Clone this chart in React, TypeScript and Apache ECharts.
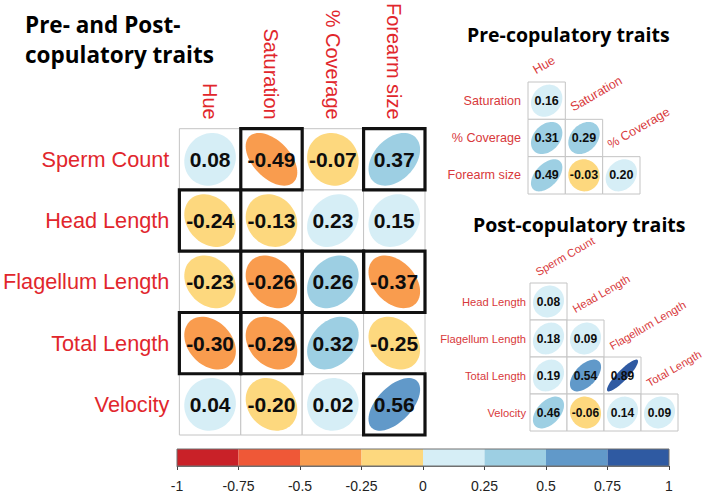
import React, { useEffect, useRef } from 'react';
import * as echarts from 'echarts';

const FONT = '"Liberation Sans", Arial, Helvetica, sans-serif';
const TITLE_FONT = '"Open Sans", "Noto Sans", sans-serif';
const LABEL_RED = '#e1262c';
const SMALL_RED = '#d8393b';

const preTraits = ['Hue', 'Saturation', '% Coverage', 'Forearm size'];
const postTraits = ['Sperm Count', 'Head Length', 'Flagellum Length', 'Total Length', 'Velocity'];

// rows follow postTraits, columns follow preTraits
const crossCorr = [
  [0.08, -0.49, -0.07, 0.37],
  [-0.24, -0.13, 0.23, 0.15],
  [-0.23, -0.26, 0.26, -0.37],
  [-0.3, -0.29, 0.32, -0.25],
  [0.04, -0.2, 0.02, 0.56],
];
const crossSignificant = [
  [0, 1, 0, 1],
  [1, 0, 0, 0],
  [0, 1, 1, 1],
  [1, 1, 0, 0],
  [0, 0, 0, 1],
];

// lower triangles: row i holds correlations with columns 0..i
const preCorr = [[0.16], [0.31, 0.29], [0.49, -0.03, 0.2]];
const postCorr = [[0.08], [0.18, 0.09], [0.19, 0.54, 0.89], [0.46, -0.06, 0.14, 0.09]];

const scaleBreaks = [-1, -0.75, -0.5, -0.25, 0, 0.25, 0.5, 0.75, 1];
const scaleColors = ['#c92128', '#ef5837', '#f99c4e', '#fdd87e', '#d6eef6', '#9dcfe3', '#6199c9', '#2f5aa2'];

function colorFor(r: number): string {
  let idx = 0;
  for (let i = 0; i < scaleColors.length; i++) {
    if (r >= scaleBreaks[i] - 1e-9) idx = i;
  }
  return scaleColors[idx];
}

// corrplot-style ellipse: contour of a bivariate normal with correlation r
function ellipsePoints(cx: number, cy: number, rx: number, ry: number, r: number) {
  const d = Math.acos(Math.max(-1, Math.min(1, r)));
  const pts: number[][] = [];
  const n = 72;
  for (let k = 0; k < n; k++) {
    const t = (k / n) * Math.PI * 2;
    pts.push([cx + rx * Math.cos(t + d / 2), cy - ry * Math.cos(t - d / 2)]);
  }
  return pts;
}

function matrixData(rows: number[][]) {
  const out: number[][] = [];
  rows.forEach((row, i) => row.forEach((v, j) => out.push([j, i, v])));
  return out;
}

const cellRenderer = (fontSize: number) => (params: any, api: any) => {
  const col = api.value(0);
  const row = api.value(1);
  const r = api.value(2);
  const [cx, cy] = api.coord([col, row]);
  const [w, h] = api.size([1, 1]);
  return {
    type: 'group',
    children: [
      {
        type: 'rect',
        shape: { x: cx - w / 2, y: cy - h / 2, width: w, height: h },
        style: { fill: '#ffffff', stroke: '#c4c4c4', lineWidth: 1 },
      },
      {
        type: 'polygon',
        shape: { points: ellipsePoints(cx, cy, w * 0.42, h * 0.43, r) },
        style: { fill: colorFor(r) },
      },
      {
        type: 'text',
        style: {
          text: r.toFixed(2),
          x: cx,
          y: cy,
          align: 'center',
          verticalAlign: 'middle',
          fill: '#0d0d0d',
          fontSize,
          fontWeight: 'bold',
          fontFamily: FONT,
        },
      },
    ],
  };
};

const boldRenderer = (params: any, api: any) => {
  const [cx, cy] = api.coord([api.value(0), api.value(1)]);
  const [w, h] = api.size([1, 1]);
  return {
    type: 'rect',
    shape: { x: cx - w / 2, y: cy - h / 2, width: w, height: h },
    style: { fill: 'none', stroke: '#111111', lineWidth: 3.2 },
  };
};

const diagLabelRenderer = (names: string[], fontSize: number) => (params: any, api: any) => {
  const j = api.value(0);
  const [cx, cy] = api.coord([j, j]);
  const [w, h] = api.size([1, 1]);
  return {
    type: 'text',
    x: cx - w * 0.25,
    y: cy - h / 2 - h * 0.15,
    rotation: Math.PI / 6,
    style: {
      text: names[j],
      x: 0,
      y: 0,
      align: 'left',
      verticalAlign: 'bottom',
      fill: SMALL_RED,
      fontSize,
      fontFamily: FONT,
    },
  };
};

function smallMatrix(
  gridIndex: number,
  rowsNames: string[],
  colNames: string[],
  values: number[][],
  labelSize: number,
  valueSize: number,
  labelMargin: number
) {
  const xAxis = {
    type: 'category',
    gridIndex,
    data: colNames,
    show: false,
  };
  const yAxis = {
    type: 'category',
    gridIndex,
    data: rowsNames,
    inverse: true,
    axisLine: { show: false },
    axisTick: { show: false },
    splitLine: { show: false },
    axisLabel: { color: SMALL_RED, fontSize: labelSize, fontFamily: FONT, margin: labelMargin },
  };
  const series = [
    {
      type: 'custom',
      xAxisIndex: gridIndex,
      yAxisIndex: gridIndex,
      data: matrixData(values),
      renderItem: cellRenderer(valueSize),
      z: 2,
    },
    {
      type: 'custom',
      xAxisIndex: gridIndex,
      yAxisIndex: gridIndex,
      data: colNames.map((_, j) => [j, j]),
      renderItem: diagLabelRenderer(colNames, labelSize),
      z: 2,
    },
  ];
  return { xAxis, yAxis, series };
}

export default function App() {
  const ref = useRef<HTMLDivElement>(null);

  useEffect(() => {
    if (!ref.current) return;
    const chart = echarts.init(ref.current, undefined, { renderer: 'svg' });

    const pre = smallMatrix(1, preTraits.slice(1), preTraits.slice(0, 3), preCorr, 12.6, 12.5, 7);
    const post = smallMatrix(2, postTraits.slice(1), postTraits.slice(0, 4), postCorr, 11.2, 12, 4);

    const boldCells: number[][] = [];
    crossSignificant.forEach((row, i) => row.forEach((s, j) => { if (s) boldCells.push([j, i]); }));

    const mainTitleStyle = { fontSize: 22.5, fontWeight: 'bold', color: '#000', lineHeight: 23, fontFamily: TITLE_FONT };

    const option: any = {
      animation: false,
      backgroundColor: '#ffffff',
      title: [
        { text: 'Pre- and Post-', left: 20, top: 8, textStyle: mainTitleStyle },
        { text: 'copulatory traits', left: 20, top: 38, textStyle: mainTitleStyle },
        {
          text: 'Pre-copulatory traits',
          left: 462,
          top: 19,
          textStyle: { fontSize: 19.5, fontWeight: 'bold', color: '#000', fontFamily: TITLE_FONT },
        },
        {
          text: 'Post-copulatory traits',
          left: 468,
          top: 209,
          textStyle: { fontSize: 19.5, fontWeight: 'bold', color: '#000', fontFamily: TITLE_FONT },
        },
      ],
      grid: [
        { left: 177, top: 125, width: 248, height: 310 },
        { left: 528, top: 82, width: 112, height: 112 },
        { left: 530, top: 283, width: 148, height: 148 },
        { left: 177, top: 449, width: 492, height: 19 },
      ],
      xAxis: [
        {
          type: 'category',
          gridIndex: 0,
          data: preTraits,
          position: 'top',
          axisLine: { show: false },
          axisTick: { show: false },
          axisLabel: { rotate: 90, color: LABEL_RED, fontSize: 20, fontFamily: FONT, margin: 9, interval: 0 },
        },
        pre.xAxis,
        post.xAxis,
        {
          type: 'value',
          gridIndex: 3,
          min: -1,
          max: 1,
          interval: 0.25,
          position: 'bottom',
          splitLine: { show: false },
          axisLine: { show: true, lineStyle: { color: '#707070' } },
          axisTick: { show: true, length: 4, lineStyle: { color: '#444' } },
          axisLabel: { color: '#222', fontSize: 14, fontFamily: FONT, margin: 13 },
        },
      ],
      yAxis: [
        {
          type: 'category',
          gridIndex: 0,
          data: postTraits,
          inverse: true,
          axisLine: { show: false },
          axisTick: { show: false },
          axisLabel: { color: LABEL_RED, fontSize: 21.7, fontFamily: FONT, margin: 10, interval: 0 },
        },
        pre.yAxis,
        post.yAxis,
        { type: 'value', gridIndex: 3, min: 0, max: 1, show: false },
      ],
      series: [
        {
          type: 'custom',
          xAxisIndex: 0,
          yAxisIndex: 0,
          data: matrixData(crossCorr),
          renderItem: cellRenderer(21),
          z: 2,
        },
        {
          type: 'custom',
          xAxisIndex: 0,
          yAxisIndex: 0,
          data: boldCells,
          renderItem: boldRenderer,
          z: 4,
        },
        ...pre.series,
        ...post.series,
        {
          type: 'custom',
          xAxisIndex: 3,
          yAxisIndex: 3,
          data: scaleColors.map((_, i) => [scaleBreaks[i], scaleBreaks[i + 1], i]),
          renderItem: (params: any, api: any) => {
            const p0 = api.coord([api.value(0), 1]);
            const p1 = api.coord([api.value(1), 0]);
            return {
              type: 'rect',
              shape: { x: p0[0], y: p0[1], width: p1[0] - p0[0], height: p1[1] - p0[1] },
              style: { fill: scaleColors[api.value(2)] },
            };
          },
          z: 2,
        },
        {
          type: 'custom',
          xAxisIndex: 3,
          yAxisIndex: 3,
          data: [[-1, 1, 1, 0]],
          renderItem: (params: any, api: any) => {
            const p0 = api.coord([api.value(0), api.value(1)]);
            const p1 = api.coord([api.value(2), api.value(3)]);
            return {
              type: 'rect',
              shape: { x: p0[0], y: p0[1], width: p1[0] - p0[0], height: p1[1] - p0[1] },
              style: { fill: 'none', stroke: '#707070', lineWidth: 1 },
            };
          },
          z: 3,
        },
      ],
    };

    chart.setOption(option);
    return () => chart.dispose();
  }, []);

  return (
    <div
      ref={ref}
      style={{ position: 'fixed', left: 0, top: 0, width: 708, height: 493, background: '#fff' }}
    />
  );
}
